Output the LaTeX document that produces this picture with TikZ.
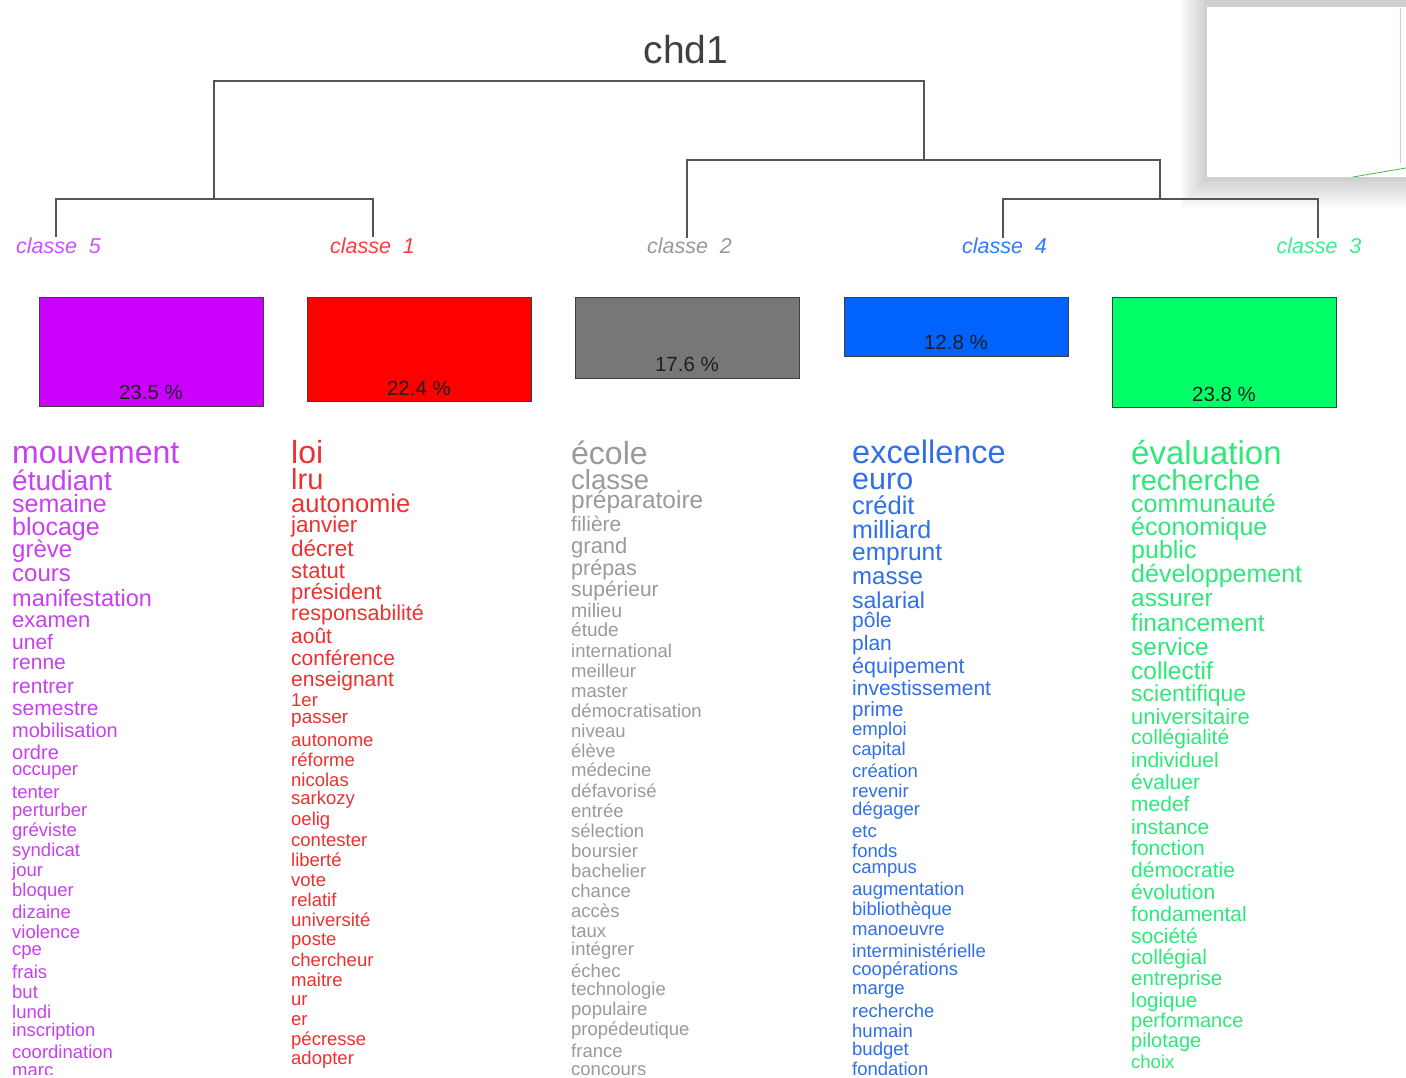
\documentclass[tikz,border=0pt]{standalone}
\usepackage{fontspec}
\setmainfont{Liberation Sans}
\definecolor{bx5}{HTML}{CC00FF}
\definecolor{bx1}{HTML}{FF0000}
\definecolor{bx2}{HTML}{777777}
\definecolor{bx4}{HTML}{0062FF}
\definecolor{bx3}{HTML}{00FF66}
\definecolor{tx5}{HTML}{C840F0}
\definecolor{tx1}{HTML}{EE3030}
\definecolor{tx2}{HTML}{9A9A9A}
\definecolor{tx4}{HTML}{2F6FEA}
\definecolor{tx3}{HTML}{2EE87A}
\definecolor{lb5}{HTML}{D050FF}
\definecolor{lb1}{HTML}{FF3C3C}
\definecolor{lb2}{HTML}{999999}
\definecolor{lb4}{HTML}{2E7BFF}
\definecolor{lb3}{HTML}{3BEE8C}
\definecolor{dend}{HTML}{555555}
\begin{document}
\begin{tikzpicture}[x=1pt,y=-1pt,
  dendro/.style={draw=dend,line width=1.8pt},
  clab/.style={inner sep=0pt,font=\itshape\fontsize{21.5}{21.5}\selectfont},
  pbox/.style={draw=black!75,line width=1.3pt,anchor=north west,minimum width=224pt,inner sep=0pt},
  pct/.style={inner sep=0pt,text=black!88,font=\fontsize{20.5}{20.5}\selectfont},
  wd/.style={inner sep=0pt,anchor=mid west}]
\useasboundingbox (0,0) rectangle (1406,1078);
\fill[white] (0,0) rectangle (1406,1078);
% window shadow artifact top right
\foreach \k in {1,...,12}
  \fill[black,opacity=0.014] (1207-2.2*\k,0) rectangle (1406,177+2.6*\k);
\fill[white] (1207,7) rectangle (1406,177);
\coordinate (ga) at (1353,177);
\coordinate (gb) at (1406,168);
\draw[green!45!gray,line width=0.8pt] (ga) -- (gb);
\coordinate (gc) at (1400,8);
\coordinate (gd) at (1400,163);
\draw[green!20!gray!40,line width=0.8pt] (gc) -- (gd);
% title
\node[inner sep=0pt,text=black!75,font=\fontsize{39}{39}\selectfont] (title) at (686,50) {chd1};
% class labels
\node[clab,text=lb5] (c5) at (58.5,246) {classe\ \ 5};
\node[clab,text=lb1] (c1) at (372.5,246) {classe\ \ 1};
\node[clab,text=lb2] (c2) at (689.5,246) {classe\ \ 2};
\node[clab,text=lb4] (c4) at (1004.5,246) {classe\ \ 4};
\node[clab,text=lb3] (c3) at (1319,246) {classe\ \ 3};
% dendrogram
\coordinate (t5) at (56,237);
\coordinate (t1) at (373,237);
\coordinate (t2) at (687,238);
\coordinate (t4) at (1003,238);
\coordinate (t3) at (1318,238);
\coordinate (m51) at (214,199);
\coordinate (m43) at (1160,199);
\coordinate (m243) at (924,160);
\coordinate (root) at (560,81);
\draw[dendro] (t5) |- (m51) -| (t1);
\draw[dendro] (t4) |- (m43) -| (t3);
\draw[dendro] (t2) |- (m243) -| (m43);
\draw[dendro] (m51) |- (root) -| (m243);
% boxes
\node[pbox,fill=bx5,minimum height=109pt] (b5) at (39,297) {};
\node[pbox,fill=bx1,minimum height=104pt] (b1) at (307,297) {};
\node[pbox,fill=bx2,minimum height=81pt] (b2) at (575,297) {};
\node[pbox,fill=bx4,minimum height=59pt] (b4) at (844,297) {};
\node[pbox,fill=bx3,minimum height=110pt] (b3) at (1112,297) {};
\node[pct] (p5) at (151,392) {23.5 \%};
\node[pct] (p1) at (419,388) {22.4 \%};
\node[pct] (p2) at (687,364) {17.6 \%};
\node[pct] (p4) at (956,342) {12.8 \%};
\node[pct] (p3) at (1224,394) {23.8 \%};
% word lists
\begin{scope}
\clip (0,420) rectangle (1406,1074);
\foreach \y/\s/\w [count=\i] in {453/32/mouvement, 481/28/étudiant, 504/25/semaine, 527/25/blocage, 550/24/grève, 574/24/cours, 599/23.5/manifestation, 620/22/examen, 643/21/unef, 663/21/renne, 687/21/rentrer, 709/21/semestre, 731/20/mobilisation, 753/20/ordre, 769/18.5/occuper, 792/18.5/tenter, 810/18.5/perturber, 830/18.5/gréviste, 850/18.5/syndicat, 870/18.5/jour, 890/18.5/bloquer, 912/18.5/dizaine, 932/18.5/violence, 949/18.5/cpe, 972/18.5/frais, 992/18.5/but, 1012/18.5/lundi, 1030/18.5/inscription, 1052/18.5/coordination, 1070/18.5/marc}
  \node[wd,text=tx5,font=\fontsize{\s}{\s}\selectfont] (wa\i) at (12,{\y+0.3*\s-2}) {\w};
\foreach \y/\s/\w [count=\i] in {453/32/loi, 480/29/lru, 504/25.5/autonomie, 525/22.5/janvier, 549/22.5/décret, 571/22/statut, 592/22/président, 613/21.5/responsabilité, 637/21/août, 659/21/conférence, 680/21/enseignant, 700/18.5/1er, 717/19/passer, 740/18.5/autonome, 760/18.5/réforme, 780/18.5/nicolas, 798/18.5/sarkozy, 819/18.5/oelig, 840/18.5/contester, 860/18.5/liberté, 880/18.5/vote, 900/18.5/relatif, 920/18.5/université, 939/18.5/poste, 960/18.5/chercheur, 980/18.5/maitre, 999/18.5/ur, 1019/18.5/er, 1039/18.5/pécresse, 1058/18.5/adopter}
  \node[wd,text=tx1,font=\fontsize{\s}{\s}\selectfont] (wb\i) at (291,{\y+0.3*\s-2}) {\w};
\foreach \y/\s/\w [count=\i] in {454/32/école, 481/27.5/classe, 501/24.5/préparatoire, 525/21/filière, 546/22/grand, 568/21.5/prépas, 590/21/supérieur, 611/19.5/milieu, 630/19/étude, 651/18.5/international, 671/18.5/meilleur, 691/18.5/master, 711/18.5/démocratisation, 731/18.5/niveau, 751/18.5/élève, 770/18.5/médecine, 791/18.5/défavorisé, 811/18.5/entrée, 831/18.5/sélection, 851/18.5/boursier, 871/18.5/bachelier, 891/18.5/chance, 911/18.5/accès, 931/18.5/taux, 949/18.5/intégrer, 971/18.5/échec, 989/18.5/technologie, 1009/18.5/populaire, 1029/18.5/propédeutique, 1051/18.5/france, 1069/18.5/concours}
  \node[wd,text=tx2,font=\fontsize{\s}{\s}\selectfont] (wc\i) at (571,{\y+0.3*\s-2}) {\w};
\foreach \y/\s/\w [count=\i] in {453/32.5/excellence, 480/30.5/euro, 506/25.5/crédit, 530/25/milliard, 553/24.5/emprunt, 577/24/masse, 601/23/salarial, 621/21/pôle, 644/21/plan, 666/21.5/équipement, 689/21/investissement, 710/20.5/prime, 729/18.5/emploi, 749/18.5/capital, 771/18.5/création, 791/18.5/revenir, 809/18.5/dégager, 831/18.5/etc, 851/18.5/fonds, 867/18.5/campus, 889/18.5/augmentation, 909/18.5/bibliothèque, 929/18.5/manoeuvre, 951/18.5/interministérielle, 969/18.5/coopérations, 988/18.5/marge, 1011/18.5/recherche, 1031/18.5/humain, 1049/18.5/budget, 1069/18.5/fondation}
  \node[wd,text=tx4,font=\fontsize{\s}{\s}\selectfont] (wd\i) at (852,{\y+0.3*\s-2}) {\w};
\foreach \y/\s/\w [count=\i] in {454/33/évaluation, 481/29/recherche, 504/25/communauté, 527/25/économique, 550/25/public, 574/25/développement, 599/24.5/assurer, 624/24.5/financement, 648/24.5/service, 672/24.5/collectif, 694/23/scientifique, 717/22/universitaire, 738/21/collégialité, 761/21/individuel, 783/21/évaluer, 805/21/medef, 828/21/instance, 849/21/fonction, 871/21/démocratie, 893/21/évolution, 915/21/fondamental, 937/21/société, 958/21/collégial, 979/20.5/entreprise, 1001/20.5/logique, 1021/20/performance, 1041/20/pilotage, 1062/18.5/choix}
  \node[wd,text=tx3,font=\fontsize{\s}{\s}\selectfont] (we\i) at (1131,{\y+0.3*\s-2}) {\w};
\end{scope}
\end{tikzpicture}
\end{document}
